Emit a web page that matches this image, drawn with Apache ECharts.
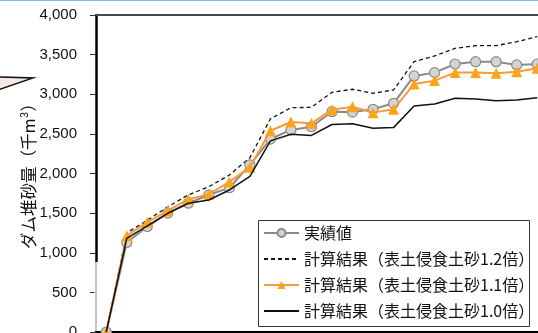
<!DOCTYPE html>
<html>
<head>
<meta charset="utf-8">
<script src="https://cdn.jsdelivr.net/npm/echarts@6/dist/echarts.min.js"></script>
<style>
  html, body { margin: 0; padding: 0; background: #fff; }
  #chart { width: 538px; height: 333px; }
</style>
</head>
<body>
<div id="chart"></div>
<script>
// Survey periods along the horizontal axis (labels sit below the visible area)
const categories = ['1', '2', '3', '4', '5', '6', '7', '8', '9', '10', '11', '12',
  '13', '14', '15', '16', '17', '18', '19', '20', '21', '22', '23', '24'];

// Accumulated sediment volume (thousand m3)
const observed = [0, 1130, 1330, 1500, 1625, 1730, 1820, 2110, 2435, 2550, 2590, 2780,
  2775, 2810, 2886, 3231, 3273, 3382, 3411, 3411, 3370, 3382];
const calcRatio12 = [0, 1250, 1410, 1580, 1730, 1834, 1981, 2200, 2690, 2830, 2835, 3025,
  3063, 3012, 3054, 3411, 3483, 3580, 3613, 3613, 3663, 3726];
const calcRatio11 = [0, 1215, 1384, 1531, 1675, 1738, 1894, 2078, 2540, 2650, 2633, 2805,
  2843, 2768, 2810, 3130, 3172, 3273, 3273, 3265, 3285, 3328];
const calcRatio10 = [0, 1182, 1338, 1498, 1624, 1666, 1792, 1965, 2412, 2496, 2480, 2618,
  2629, 2572, 2579, 2852, 2877, 2949, 2941, 2919, 2928, 2957];

// Axis scale
const yMin = 0, yMax = 4000, yStep = 500;

const names = {
  observed: '実績値',
  r12: '計算結果（表土侵食土砂1.2倍）',
  r11: '計算結果（表土侵食土砂1.1倍）',
  r10: '計算結果（表土侵食土砂1.0倍）'
};

const jp = '"Noto Sans CJK JP", "Noto Sans", sans-serif';
const chart = echarts.init(document.getElementById('chart'), null, { renderer: 'canvas' });

chart.setOption({
  animation: false,
  backgroundColor: '#ffffff',
  grid: {
    left: 96, top: 15, width: 492.5, height: 317,
    containLabel: false, outerBoundsMode: 'none'
  },
  xAxis: [
    {
      type: 'category', data: categories, boundaryGap: true, position: 'bottom',
      axisLine: { show: true, lineStyle: { color: '#000', width: 3 } },
      axisTick: { show: false }, axisLabel: { show: false }, splitLine: { show: false }
    },
    {
      type: 'category', data: categories, boundaryGap: true, position: 'top',
      axisLine: { show: true, lineStyle: { color: '#4a4a4a', width: 2 } },
      axisTick: { show: false }, axisLabel: { show: false }, splitLine: { show: false }
    }
  ],
  yAxis: {
    type: 'value', min: yMin, max: yMax, interval: yStep,
    axisLine: { show: true, lineStyle: { color: '#000', width: 2.5 } },
    axisTick: { show: true, inside: false, length: 6, lineStyle: { color: '#333', width: 1 } },
    axisLabel: {
      margin: 19, color: '#111', fontSize: 15, fontFamily: '"Liberation Sans", Arial, sans-serif',
      formatter: v => v.toLocaleString('en-US')
    },
    splitLine: { show: false }
  },
  legend: {
    orient: 'vertical', left: 263, top: 225, padding: 0,
    itemWidth: 35, itemHeight: 10, itemGap: 10,
    textStyle: { fontSize: 16, color: '#111', fontFamily: jp },
    data: [
      { name: names.observed },
      { name: names.r12, itemStyle: { opacity: 0 } },
      { name: names.r11 },
      { name: names.r10, itemStyle: { opacity: 0 } }
    ],
    z: 6
  },
  series: [
    {
      name: names.r12, type: 'line', data: calcRatio12, symbol: 'none',
      lineStyle: { color: '#111', width: 1.3, type: [4, 3] }, itemStyle: { color: '#111' }, z: 2
    },
    {
      name: names.observed, type: 'line', data: observed,
      symbol: 'circle', symbolSize: 10,
      lineStyle: { color: '#8a8a8a', width: 2 },
      itemStyle: { color: '#d4d4d4', borderColor: '#8a8a8a', borderWidth: 1.2 }, z: 3
    },
    {
      name: names.r11, type: 'line', data: calcRatio11,
      symbol: 'triangle', symbolSize: 11,
      lineStyle: { color: '#f99a3a', width: 2 },
      itemStyle: { color: '#ffa31a', borderColor: '#ffa31a', borderWidth: 0 }, z: 4
    },
    {
      name: names.r10, type: 'line', data: calcRatio10, symbol: 'none',
      lineStyle: { color: '#111', width: 1.5 }, itemStyle: { color: '#111' }, z: 5
    }
  ],
  graphic: [
    // thin frame line along the top of the page
    { type: 'rect', shape: { x: 0, y: 0, width: 538, height: 1 }, style: { fill: '#8fb4e3' }, z: 20 },
    // pointer of a callout reaching in from the left
    {
      type: 'polygon', shape: { points: [[-2, 77], [33, 78], [-2, 90]] },
      style: { fill: '#fbe6e6', stroke: '#111', lineWidth: 1.5 }, z: 20
    },
    // lower part of the vertical axis drawn thin
    { type: 'rect', shape: { x: 94.5, y: 262, width: 3.5, height: 69 }, style: { fill: '#fff' }, z: 20 },
    { type: 'line', shape: { x1: 96, y1: 262, x2: 96, y2: 331 }, style: { stroke: '#8a8a8a', lineWidth: 1 }, z: 21 },
    // legend frame
    {
      type: 'rect', shape: { x: 258.5, y: 220.5, width: 271, height: 106 },
      style: { fill: '#fff', stroke: '#333', lineWidth: 1 }, z: 5
    },
    // vertical axis title
    {
      type: 'text', x: 29, y: 172, rotation: Math.PI / 2,
      style: {
        text: 'ダム堆砂量（千m³）', fontSize: 16.5, fontFamily: jp, fill: '#111',
        align: 'center', verticalAlign: 'middle'
      }, z: 20
    }
  ]
});
</script>
</body>
</html>
